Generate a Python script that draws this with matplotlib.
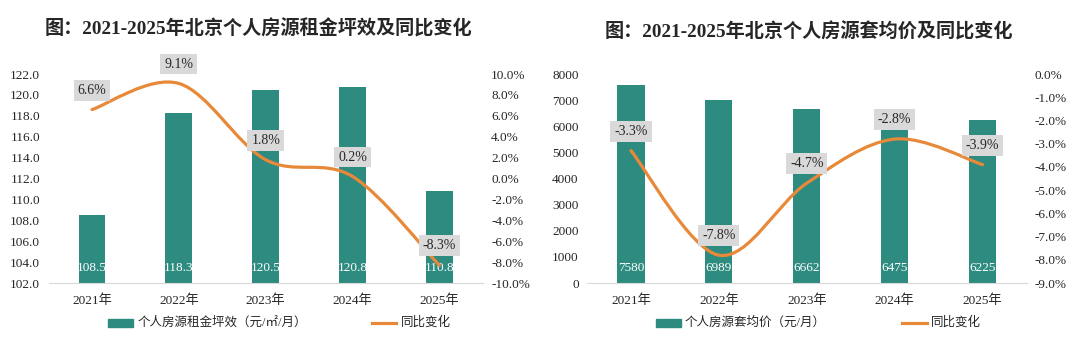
import numpy as np
import matplotlib
matplotlib.use("Agg")
import matplotlib.pyplot as plt
from matplotlib.path import Path
from matplotlib.patches import PathPatch
from matplotlib.lines import Line2D
from matplotlib.ticker import FuncFormatter

plt.rcParams['font.family'] = ['Liberation Serif', 'Noto Sans CJK SC']

years = ['2021年', '2022年', '2023年', '2024年', '2025年']

rent_eff = [108.5, 118.3, 120.5, 120.8, 110.8]
rent_eff_yoy = [6.6, 9.1, 1.8, 0.2, -8.3]
rent_eff_labels = ['108.5', '118.3', '120.5', '120.8', '110.8']

avg_rent = [7580, 6989, 6662, 6475, 6225]
avg_rent_yoy = [-3.3, -7.8, -4.7, -2.8, -3.9]

BAR = '#2E8B80'
LINE = '#E8893A'
BOX = '#D9D9D9'


def smooth_line(ax, xs, ys, color):
    """Excel-style smoothed line (Catmull-Rom bezier in screen space)."""
    pts = ax.transData.transform(np.column_stack([xs, ys]))
    verts = [pts[0]]
    codes = [Path.MOVETO]
    n = len(pts)
    for i in range(n - 1):
        p0 = pts[i - 1] if i > 0 else pts[i]
        p1 = pts[i]
        p2 = pts[i + 1]
        p3 = pts[i + 2] if i + 2 < n else pts[i + 1]
        c1 = p1 + (p2 - p0) / 6.0
        c2 = p2 - (p3 - p1) / 6.0
        verts += [c1, c2, p2]
        codes += [Path.CURVE4] * 3
    path = Path(ax.transData.inverted().transform(np.array(verts)), codes)
    ax.add_patch(PathPatch(path, facecolor='none', edgecolor=color, lw=2.3,
                           capstyle='round', zorder=3))


def draw_panel(fig, rect, bars, bar_labels, yoy, ylim, yticks, yfmt,
               ylim2, yticks2, title, title_xy, legend_name, legend_xs):
    ax = fig.add_axes(rect)
    x = np.arange(len(years))
    ax.bar(x, bars, width=0.31, color=BAR, zorder=2)
    ax.set_xlim(-0.5, len(years) - 0.5)
    ax.set_ylim(*ylim)
    ax.set_yticks(yticks)
    ax.yaxis.set_major_formatter(FuncFormatter(yfmt))
    ax.set_xticks(x)
    ax.set_xticklabels(years)
    for s in ['top', 'right', 'left']:
        ax.spines[s].set_visible(False)
    ax.spines['bottom'].set_color('#D9D9D9')
    ax.tick_params(length=0, labelsize=9.5, colors='#262626')
    ax.tick_params(axis='x', pad=8)
    ax.tick_params(axis='y', pad=6)
    for xi, lab in zip(x, bar_labels):
        ax.annotate(lab, (xi, ylim[0]), xytext=(0, 11), textcoords='offset points',
                    ha='center', va='center', color='white', fontsize=9.5, zorder=4)

    ax2 = ax.twinx()
    ax2.set_ylim(*ylim2)
    ax2.set_yticks(yticks2)
    ax2.yaxis.set_major_formatter(FuncFormatter(lambda v, p: f'{v:.1f}%'))
    for s in ['top', 'right', 'left', 'bottom']:
        ax2.spines[s].set_visible(False)
    ax2.tick_params(length=0, labelsize=9.5, colors='#262626', pad=6)
    smooth_line(ax2, x, yoy, LINE)
    for xi, v in zip(x, yoy):
        ax2.annotate(f'{v:.1f}%', (xi, v), xytext=(0, 14), textcoords='offset points',
                     ha='center', va='center', fontsize=10, color='#262626', zorder=5,
                     bbox=dict(boxstyle='square,pad=0.28', fc=BOX, ec='none'))

    fig.text(title_xy[0], title_xy[1], title, ha='center', va='center', fontsize=13.8,
             fontweight='bold', color='#262626')

    ly = 0.0665
    fig.patches.append(plt.Rectangle((legend_xs[0], ly - 0.0115), 0.0235, 0.023,
                                     transform=fig.transFigure, color=BAR))
    fig.text(legend_xs[0] + 0.027, ly, legend_name, ha='left', va='center',
             fontsize=9, color='#262626')
    fig.lines.append(Line2D([legend_xs[1], legend_xs[1] + 0.023], [ly, ly],
                            transform=fig.transFigure, color=LINE, lw=2.3))
    fig.text(legend_xs[1] + 0.027, ly, '同比变化', ha='left', va='center',
             fontsize=9, color='#262626')
    return ax, ax2


fig = plt.figure(figsize=(10.8, 3.46), dpi=100)

draw_panel(fig, [0.045, 0.182, 0.402, 0.604], rent_eff, rent_eff_labels, rent_eff_yoy,
           (102, 122), np.arange(102, 123, 2), lambda v, p: f'{v:.1f}',
           (-10, 10), np.arange(-10, 11, 2),
           '图：2021-2025年北京个人房源租金坪效及同比变化', (0.239, 0.918),
           '个人房源租金坪效（元/㎡/月）', (0.100, 0.344))

draw_panel(fig, [0.5435, 0.182, 0.407, 0.604], avg_rent, [str(v) for v in avg_rent],
           avg_rent_yoy,
           (0, 8000), np.arange(0, 8001, 1000), lambda v, p: f'{v:.0f}',
           (-9, 0), np.arange(-9, 0.1, 1),
           '图：2021-2025年北京个人房源套均价及同比变化', (0.749, 0.907),
           '个人房源套均价（元/月）', (0.607, 0.835))

fig.savefig('out.png', dpi=100, facecolor='white')
